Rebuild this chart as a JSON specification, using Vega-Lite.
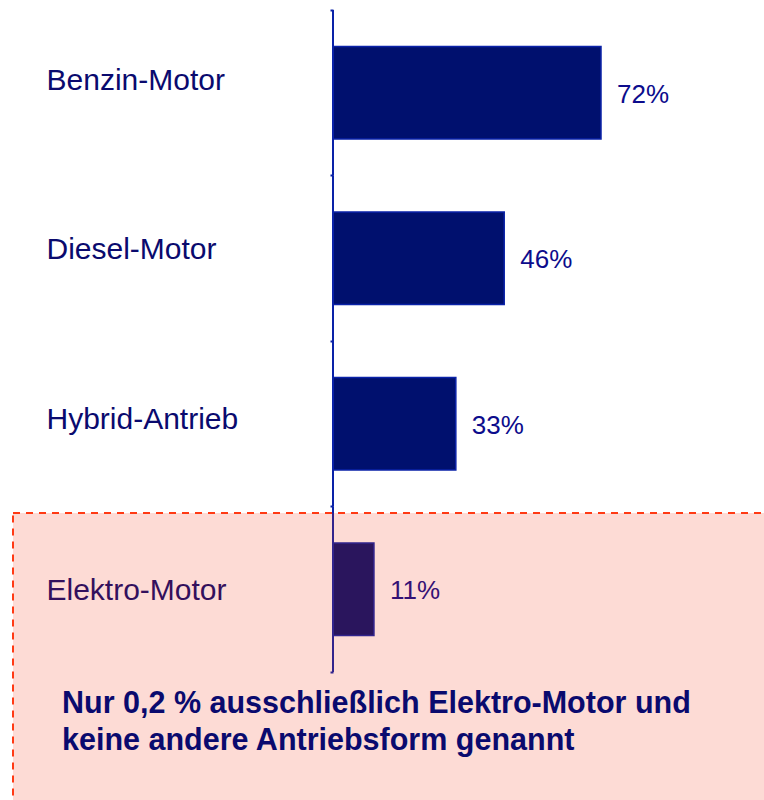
{
  "$schema": "https://vega.github.io/schema/vega-lite/v6.json",
  "width": 764,
  "height": 800,
  "padding": 0,
  "autosize": {"type": "none"},
  "background": "white",
  "config": {"view": {"stroke": null}},
  "datasets": {
    "antrieb": [
      {"Antrieb": "Benzin-Motor", "Anteil": 0.72},
      {"Antrieb": "Diesel-Motor", "Anteil": 0.46},
      {"Antrieb": "Hybrid-Antrieb", "Anteil": 0.33},
      {"Antrieb": "Elektro-Motor", "Anteil": 0.11}
    ],
    "hinweis": [
      {"Antrieb": "Hinweis", "Text": ["Nur 0,2 % ausschließlich Elektro-Motor und", "keine andere Antriebsform genannt"]}
    ]
  },
  "data": {"name": "antrieb"},
  "layer": [
    {
      "mark": {"type": "bar", "height": {"band": 0.56}, "fill": "#00106E", "stroke": "#0A22A8", "strokeWidth": 1.5},
      "encoding": {
        "x": {"field": "Anteil", "type": "quantitative", "scale": {"domain": [0, 0.72], "range": [333, 601], "nice": false, "zero": false}, "axis": null},
        "y": {
          "field": "Antrieb", "type": "nominal", "sort": null,
          "scale": {"domain": ["Benzin-Motor", "Diesel-Motor", "Hybrid-Antrieb", "Elektro-Motor", "Hinweis"], "range": [10, 837.5], "paddingInner": 0, "paddingOuter": 0},
          "axis": {
            "orient": "left", "offset": -333, "title": null, "domain": false, "grid": false,
            "ticks": true, "tickSize": 3, "tickWidth": 2, "tickColor": "#0A22A8", "bandPosition": 0,
            "labelAlign": "left", "labelBaseline": "middle", "labelPadding": 284,
            "labelFont": "Liberation Sans", "labelFontSize": 30, "labelColor": "#0A0A6E",
            "labelOverlap": false, "labelFlush": false, "labelLimit": 0, "labelBound": false,
            "labelExpr": "datum.value == 'Hinweis' ? '' : datum.value",
            "labelOffset": {
              "condition": [
                {"test": "datum.value == 'Benzin-Motor'", "value": -12},
                {"test": "datum.value == 'Diesel-Motor'", "value": -8},
                {"test": "datum.value == 'Hybrid-Antrieb'", "value": -4}
              ],
              "value": 1.5
            }
          }
        }
      }
    },
    {
      "mark": {"type": "text", "align": "left", "baseline": "middle", "dx": 16, "dy": 2, "font": "Liberation Sans", "fontSize": 26, "fill": "#0C0C8C"},
      "encoding": {
        "x": {"field": "Anteil", "type": "quantitative"},
        "y": {"field": "Antrieb", "type": "nominal", "sort": null},
        "text": {"field": "Anteil", "type": "quantitative", "format": ".0%"}
      }
    },
    {
      "mark": {"type": "bar", "height": {"band": 1}, "fill": null, "stroke": "#0A22A8", "strokeWidth": 2},
      "encoding": {
        "x": {"datum": 0, "type": "quantitative"},
        "x2": {"datum": 0},
        "y": {"field": "Antrieb", "type": "nominal", "sort": null}
      }
    },
    {
      "data": {"values": [{}]},
      "mark": {"type": "rect", "fill": "#F32F0C", "fillOpacity": 0.173, "stroke": "#FF3A14", "strokeWidth": 2, "strokeDash": [7, 6]},
      "encoding": {
        "x": {"datum": -0.8597, "type": "quantitative"},
        "x2": {"datum": 1.25},
        "y": {"datum": "Elektro-Motor", "type": "nominal", "bandPosition": 0.04},
        "y2": {"datum": "Hinweis", "bandPosition": 1}
      }
    },
    {
      "data": {"name": "hinweis"},
      "mark": {"type": "text", "align": "left", "baseline": "alphabetic", "dy": 41, "font": "Liberation Sans", "fontSize": 30.5, "fontWeight": "bold", "lineHeight": 37, "fill": "#0A0A6E"},
      "encoding": {
        "x": {"datum": -0.728, "type": "quantitative"},
        "y": {"field": "Antrieb", "type": "nominal", "bandPosition": 0},
        "text": {"field": "Text"}
      }
    }
  ]
}
